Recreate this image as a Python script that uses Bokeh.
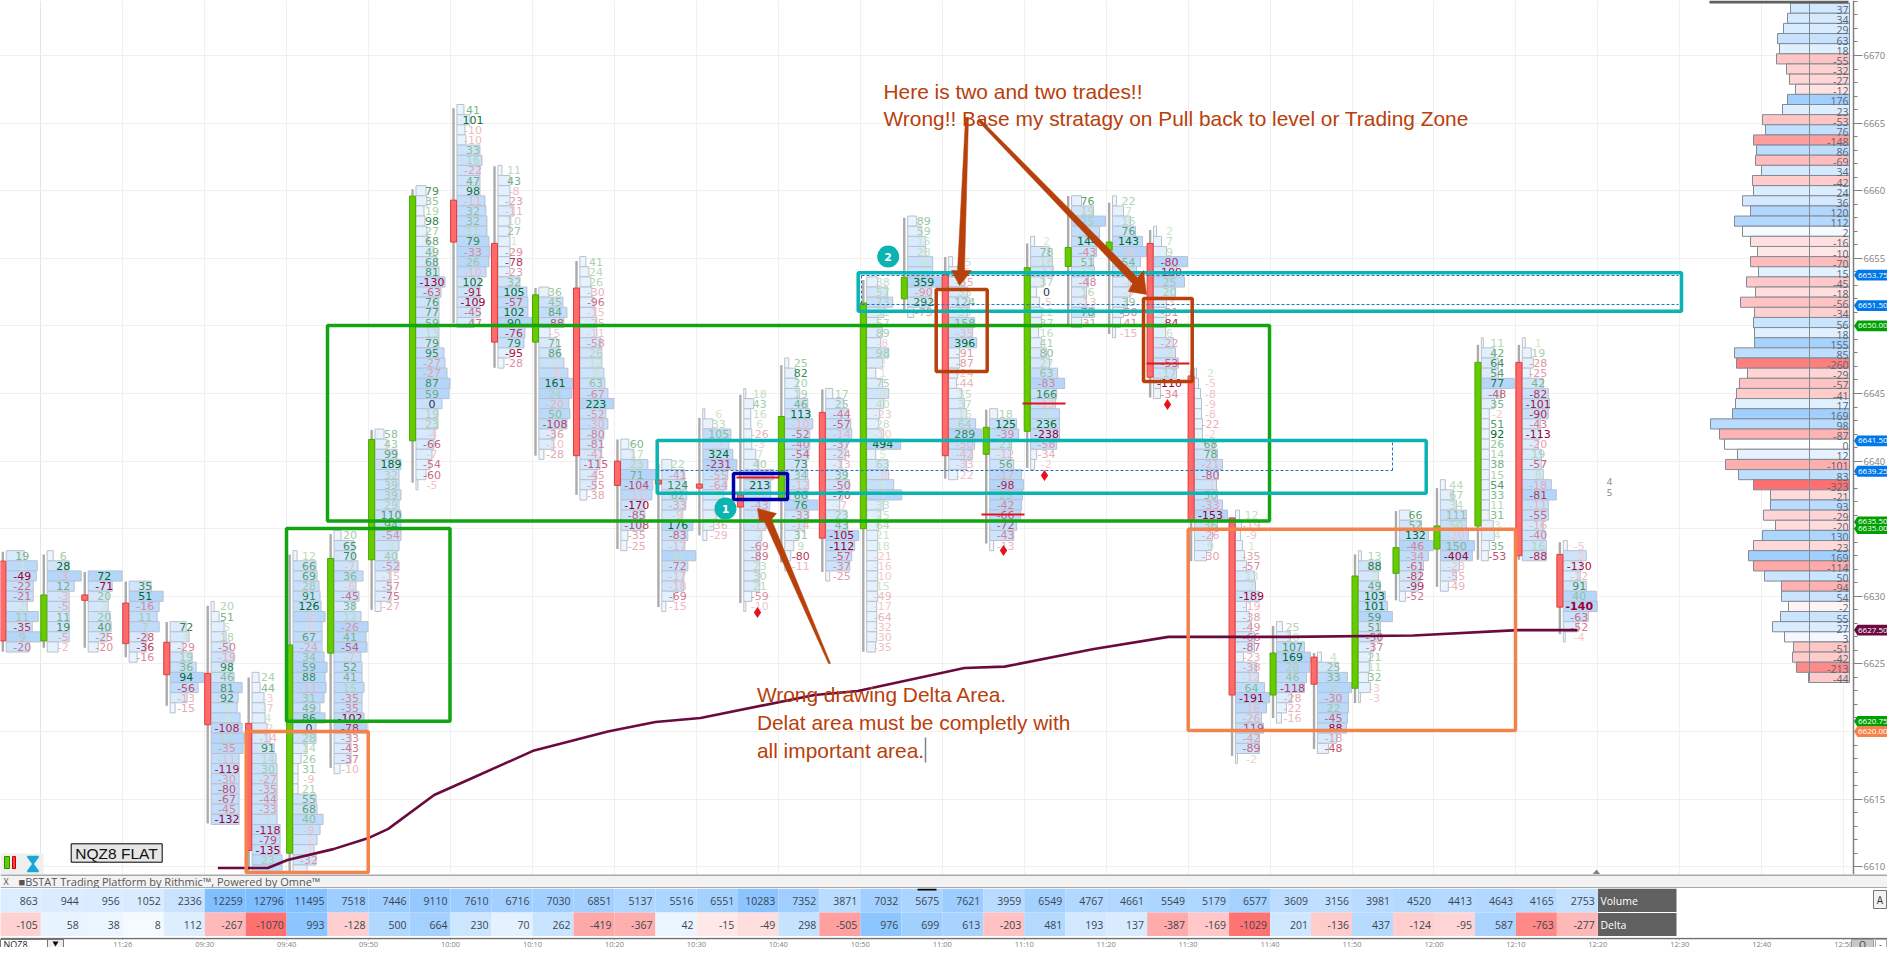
from bokeh.plotting import figure
from bokeh.layouts import column
from bokeh.models import Range1d, Grid, FixedTicker, LinearAxis
from bokeh.core.properties import value
from bokeh.embed import file_html
from bokeh.resources import INLINE

# ---------- data ----------
first_bar = 545
bar_minutes = 5
top_rows = [6633.0,6633.0,6631.5,6630.75,6627.75,6629.25,6624.0,6633.0,6634.5,6642.0,6660.0,6666.0,6661.5,
            6652.5,6654.75,6641.25,6639.75,6643.5,6645.0,6647.25,6645.0,6653.25,6657.75,6654.75,6643.5,6656.25,
            6659.25,6659.25,6657.0,6646.5,6636.0,6627.75,6625.5,6633.0,6636.0,6638.25,6648.75,6648.75,6633.75]
opens  = [6632.6,6626.7,6630.1,6629.5,6626.6,6624.3,6620.6,6611.0,6625.8,6632.7,6641.5,6659.3,6656.1,6648.8,6652.8,6640.0,
          6638.6,6638.3,6637.5,6637.1,6643.6,6635.0,6652.0,6653.8,6640.5,6642.2,6654.4,6655.6,6656.1,6646.3,6635.8,6622.7,
          6625.5,6623.2,6631.7,6633.5,6635.2,6647.3,6633.1]
closes = [6626.7,6630.1,6629.7,6626.5,6624.2,6620.5,6611.2,6626.4,6632.8,6641.6,6659.6,6656.2,6648.8,6652.3,6640.4,6638.2,
          6638.3,6638.0,6636.6,6643.3,6634.3,6651.7,6653.6,6640.4,6642.5,6654.3,6655.8,6656.2,6646.2,6635.6,6622.7,6625.8,
          6623.5,6631.5,6633.6,6635.2,6647.3,6633.0,6629.2]
highs  = [6633.3,6633.1,6631.8,6631.1,6628.1,6629.3,6624.0,6633.1,6634.6,6642.3,6660.1,6666.1,6661.8,6652.8,6654.8,6641.6,
          6639.8,6643.2,6644.9,6647.1,6645.3,6653.4,6658.0,6655.1,6643.8,6656.1,6659.6,6659.1,6657.1,6646.7,6635.8,6627.8,
          6625.8,6633.1,6636.3,6638.0,6648.6,6648.6,6634.0]
lows   = [6625.9,6626.2,6626.2,6625.5,6621.9,6613.2,6609.7,6609.3,6617.3,6629.0,6638.4,6650.2,6646.9,6640.4,6637.5,6633.5,
          6629.2,6634.5,6629.5,6632.5,6631.8,6625.9,6651.2,6638.7,6633.9,6639.5,6650.1,6649.4,6644.7,6632.6,6618.2,6621.0,
          6618.7,6622.1,6629.7,6630.7,6632.7,6632.7,6627.2]
row_delta = [
 [19,1,-49,-22,-21,2,11,-35,9,-20],
 [6,28,-3,12,-3,-5,11,19,-5,-2],
 [72,-71,20,2,20,40,-25,-20],
 [35,51,-16,11,7,-28,-36,-16],
 [72,4,-29,19,36,94,-56,-13,-15],
 [20,51,5,18,-50,-19,98,46,81,92,3,2,-108,12,-35,-11,-119,-30,-80,-67,-45,-132],
 [24,44,-3,-7,4,-2,-14,91,14,30,-27,-35,-44,-33,7,-118,-79,-135,23,42],
 [12,66,69,28,91,126,-5,-1,67,-24,34,59,88,-11,31,49,86,0,28,14,26,31,-9,21,55,68,40,-9,-2,-1,-32,13],
 [20,65,70,-7,36,-6,-45,38,12,-26,41,-54,-7,52,41,15,-35,-35,-102,-78,-33,-43,-37,-10],
 [58,43,99,189,32,39,39,29,110,94,-54,8,40,-52,-15,-57,-75,-27],
 [79,35,19,98,27,68,49,68,81,-130,-63,76,77,59,13,79,95,-27,-27,87,59,0,19,23,-4,-66,-7,-54,-60,-5],
 [41,101,-10,-10,33,16,-22,47,98,-11,32,32,11,79,-33,26,-10,102,-91,-109,-45,-47],
 [11,43,-8,-23,-11,10,27,1,-29,-78,-23,32,105,-57,102,90,-76,79,-95,-28],
 [36,45,84,-88,-5,71,86,5,-5,161,24,-20,50,-108,-36,-10,-28],
 [41,24,26,-30,-96,-15,-25,-11,-58,26,12,9,63,-67,223,-52,-30,-80,-81,-41,-115,-45,-55,-38],
 [60,17,23,71,-104,-11,-170,-85,-108,-35,-25],
 [22,-41,124,62,-33,-9,176,-83,-17,12,-72,-17,-18,-69,-15],
 [6,33,105,-7,324,-231,-55,-64,7,-9,12,-36,-29],
 [18,43,16,6,-26,-3,7,40,-17,213,-8,-43,-11,-13,7,-69,-89,23,30,21,-59,-10],
 [25,82,20,19,46,113,-10,-52,-40,-54,73,34,-12,66,76,-33,-14,31,9,-80,-11],
 [17,25,-44,-57,-14,-37,-24,-13,39,-50,-70,-7,23,43,-105,-112,-57,-37,-25],
 [38,57,73,31,57,89,-8,98,2,1,75,9,40,-23,28,-10,494,5,63,-8,4,7,33,25,64,21,18,-21,-16,-10,15,-49,-17,-64,-32,-30,-35],
 [89,59,15,28,9,7,359,-90,292,-75],
 [15,-5,-55,33,124,35,158,-35,396,-91,-87,-24,-44,35,37,16,64,289,-50,-42,-33,-22],
 [18,125,-39,21,-12,56,-17,-98,25,-42,-66,-72,-43,-13],
 [2,78,18,-14,37,0,-5,22,37,16,41,80,27,63,-83,166,-13,9,236,-238,-58,-34,-2],
 [76,19,25,9,144,-43,51,12,-48,16,-13,78,-31],
 [22,7,16,76,143,-5,54,13,-8,-5,39,-50,-41,-15],
 [2,7,9,-80,-100,25,20,-3,-31,-84,6,-22,3,-53,17,-110,-34],
 [2,-5,-8,-9,-8,-22,-2,68,78,-21,-80,-1,50,-33,-153,36,-26,9,-30],
 [12,-19,-9,1,-35,-57,13,7,-189,-19,-38,-49,-66,-87,-23,-38,-12,64,-191,-16,-26,-119,-42,-89,-2],
 [25,10,107,169,28,46,-118,-28,-22,-16],
 [4,25,33,9,-30,22,-45,-88,-18,-48],
 [13,88,2,49,103,101,59,51,-50,-37,21,11,32,-3,-3],
 [66,52,132,-46,-34,-61,-82,-99,-52],
 [44,67,34,111,50,-20,150,-404,-23,-55,-49],
 [11,42,64,54,77,-48,35,-2,51,92,26,14,38,15,54,33,11,31,3,4,35,-53],
 [1,19,-28,-25,42,-82,-101,-90,-43,-113,-20,19,-57,8,-18,-81,-11,-55,-16,-40,16,-88],
 [-5,-2,-130,-12,91,40,-140,-63,-52,-4],
]
row_size = [
 [18,31,30,27,27,21,32,26,35,23],
 [6,22,34,27,22,22,22,22,22,11],
 [34,24,20,20,22,23,19,10],
 [22,34,30,28,30,18,17,8],
 [16,19,13,22,26,34,28,17,5],
 [3,8,13,15,19,23,21,23,31,27,26,29,31,33,32,28,28,28,28,28,28,28],
 [7,8,12,13,13,15,18,22,24,25,25,25,25,25,25,28,28,28,30,30],
 [4,23,24,26,27,28,32,29,29,29,31,34,32,33,31,27,32,23,23,14,8,5,5,5,23,24,30,27,24,21,23,14],
 [7,20,20,24,29,22,25,20,27,34,32,33,27,28,28,30,28,28,30,33,17,17,17,6],
 [9,12,22,26,24,24,26,24,26,26,26,24,22,24,16,16,16,6],
 [10,11,8,9,11,13,18,21,23,29,25,23,23,23,23,23,28,29,31,34,33,26,22,22,19,18,16,14,10,2],
 [7,13,8,9,23,25,23,23,23,28,29,30,30,32,33,32,29,23,23,23,23,17],
 [4,12,12,12,16,12,12,12,12,12,12,22,29,30,30,34,27,26,12,6],
 [10,24,28,25,11,18,21,25,29,34,33,30,31,28,16,15,5],
 [6,9,11,12,14,16,17,17,21,22,22,24,25,28,34,26,28,24,22,21,20,17,16,7],
 [8,13,27,35,32,31,24,24,23,7,6],
 [10,23,23,25,24,21,31,26,23,34,26,22,22,12,4],
 [2,10,28,26,30,34,25,24,21,17,14,11,4],
 [2,10,7,7,8,8,12,15,30,27,27,26,23,22,18,17,16,16,16,16,8,2],
 [4,11,13,15,23,25,28,25,25,24,22,23,24,23,33,24,20,14,9,6,3],
 [7,18,23,25,26,21,20,16,21,24,17,14,21,22,33,29,26,24,4],
 [11,21,26,17,11,16,14,22,16,9,16,22,17,13,12,17,34,9,21,22,27,35,17,14,12,11,11,11,11,11,11,11,10,10,10,10,9],
 [9,14,18,18,25,25,34,24,23,6],
 [4,11,16,19,21,19,26,24,28,11,11,9,8,13,16,18,27,33,26,24,18,9],
 [8,27,29,22,21,24,32,34,33,32,31,27,24,4],
 [4,19,22,23,13,6,9,11,11,8,11,16,19,27,34,26,25,29,29,29,26,6,4],
 [10,22,34,28,28,25,22,23,17,15,15,23,10],
 [4,11,18,23,30,34,28,24,18,18,15,11,8,3],
 [3,8,13,34,23,31,22,13,13,13,12,20,22,25,23,7,7],
 [2,4,6,7,7,8,8,20,23,28,24,22,23,28,33,23,18,17,12],
 [4,6,5,7,9,11,19,20,24,11,14,16,19,19,8,21,23,29,34,31,26,28,24,24,2],
 [6,14,28,34,33,30,28,15,10,5],
 [4,21,30,34,31,31,30,29,19,11],
 [3,22,20,22,27,29,34,22,22,15,12,11,10,12,2],
 [11,22,29,34,29,24,21,19,6],
 [5,13,16,26,26,28,34,32,19,16,8],
 [2,13,17,17,33,20,13,8,8,8,8,8,8,8,8,8,8,8,12,13,8,7],
 [3,9,11,8,21,26,27,26,18,18,16,19,19,21,29,34,26,26,21,23,24,24],
 [4,23,18,17,23,33,34,25,15,2],
]
table_volume = [863,944,956,1052,2336,12259,12796,11495,7518,7446,9110,7610,6716,7030,6851,5137,5516,6551,10283,7352,
                3871,7032,5675,7621,3959,6549,4767,4661,5549,5179,6577,3609,3156,3981,4520,4413,4643,4165,2753]
table_delta = [-105,58,38,8,112,-267,-1070,993,-128,500,664,230,70,262,-419,-367,42,-15,-49,298,
               -505,976,699,613,-203,481,193,137,-387,-169,-1029,201,-136,437,-124,-95,587,-763,-277]
profile_top = 6673.5
profile_delta = [37,34,29,63,18,-55,-32,-27,-12,176,23,-53,76,-148,86,-69,34,-42,24,36,120,112,2,-16,-10,-70,15,-45,-18,-56,
                 -34,56,18,155,85,-260,-29,-57,-41,17,169,98,-87,0,12,-101,83,-323,-21,93,-29,-20,130,-23,169,-114,50,-94,54,
                 -2,55,27,3,-51,-42,-213,-44]
profile_size = [59,62,66,72,70,73,63,60,54,62,67,87,84,96,93,94,88,97,96,107,99,115,107,99,92,99,91,103,94,109,95,96,95,95,115,
                113,102,110,113,114,117,139,130,125,112,124,111,96,79,79,86,74,87,96,101,96,85,68,68,61,69,77,65,56,57,53,41]
vwap_minute = [571.6,577.7,580.1,585.7,589.9,592.4,598.0,602.8,610.2,619.2,625.0,630.5,644.4,649.7,662.7,667.6,678.5,687.6,690.2,702.5,717.5,730.2,737.5]
vwap_price = [6609.9,6609.9,6610.5,6611.3,6612.1,6612.8,6615.3,6616.6,6618.6,6620.0,6620.7,6621.0,6622.7,6623.0,6624.7,6624.8,6626.1,6627.0,6627.0,6627.0,6627.1,6627.5,6627.5]
level_price = [6653.75,6651.50,6650.00,6641.50,6639.25,6635.00,6635.50,6627.50,6620.75,6620.00]
level_color = ["#0078E8","#0078E8","#00A000","#0078E8","#0078E8","#00A000","#00A000","#6B0A3F","#00A000","#F5824A"]
price_ticks = [6610,6615,6620,6625,6630,6635,6640,6645,6650,6655,6660,6665,6670]
time_ticks = [560,570,580,590,600,610,620,630,640,650,660,670,680,690,700,710,720,730,740,750,760,770]
time_labels = ["11:26","09:30","09:40","09:50","10:00","10:10","10:20","10:30","10:40","10:50","11:00","11:10","11:20",
               "11:30","11:40","11:50","12:00","12:10","12:20","12:30","12:40","12:50"]

# ---------- scales (pixel of the reference <-> time / price) ----------
PX = 8.195      # pixels per minute
PY = 13.52      # pixels per point
def tx(px): return 570 + (px - 204.2) / PX
def ty(py): return 6670 - (py - 55) / PY

def mix(a, b, t):
    t = max(0.0, min(1.0, t))
    ca = [int(a[i:i+2], 16) for i in (1, 3, 5)]
    cb = [int(b[i:i+2], 16) for i in (1, 3, 5)]
    return "#%02X%02X%02X" % tuple(round(x + (y - x) * t) for x, y in zip(ca, cb))

W = 1887
R = 1887
x_range = Range1d(tx(0), tx(R))
NUM = value("DejaVu Sans")
UI = value("Open Sans")
SERIF = value("Liberation Sans")

p = figure(width=W, height=874, x_range=x_range, y_range=Range1d(ty(874), ty(0)), output_backend="svg",
           toolbar_location=None, x_axis_location=None, y_axis_location=None, min_border=0,
           outline_line_color=None, background_fill_color="white", border_fill_color="white")
p.add_layout(Grid(dimension=0, ticker=FixedTicker(ticks=time_ticks), grid_line_color="#F0F0F0"))
p.add_layout(Grid(dimension=1, ticker=FixedTicker(ticks=price_ticks), grid_line_color="#F0F0F0"))
p.quad(left=[tx(1853)], right=[tx(R)], bottom=[ty(874)], top=[ty(0)], fill_color="white", line_color=None)

# ---------- footprint rows ----------
ROW = 0.75
rows = dict(l=[], r=[], t=[], b=[], f=[])
labels = dict(x=[], y=[], s=[], c=[])
bold = dict(x=[], y=[], s=[], c=[])
floor_price = ty(868)
for k, (top, ds, ss) in enumerate(zip(top_rows, row_delta, row_size)):
    start = first_bar + k * bar_minutes + 6.4 / PX
    peak = max(abs(v) for v in ds) or 1
    for i, (d, s) in enumerate(zip(ds, ss)):
        price = top - i * ROW
        rows["l"].append(start); rows["r"].append(start + s / PX)
        rows["t"].append(price + ROW / 2); rows["b"].append(price - ROW / 2)
        rows["f"].append(mix("#F4F9FE", "#B4D6FB", (s / 34) ** 1.3))
        if price < floor_price:
            continue
        t = (abs(d) / peak) ** 0.9
        col = "#2A3550" if d == 0 else (mix("#D6EBD0", "#00692A", t) if d > 0 else mix("#F6D2D2", "#9E0030", t))
        tgt = bold if d == -140 else labels
        tgt["x"].append(start + 16 / PX); tgt["y"].append(price); tgt["s"].append(str(d)); tgt["c"].append(col)
p.quad(left=rows["l"], right=rows["r"], top=rows["t"], bottom=rows["b"], fill_color=rows["f"], line_color="#B9C1CC", line_width=1)
p.text(x=labels["x"], y=labels["y"], text=labels["s"], text_color=labels["c"], text_font=NUM, text_font_size="11px",
       text_align="center", text_baseline="middle")
p.text(x=bold["x"], y=bold["y"], text=bold["s"], text_color=bold["c"], text_font=NUM, text_font_size="11px",
       text_font_style="bold", text_align="center", text_baseline="middle")

# ---------- candles ----------
cx = [first_bar + k * bar_minutes + 3 / PX for k in range(len(opens))]
p.segment(x0=cx, x1=cx, y0=highs, y1=lows, line_color="#ABABAB", line_width=2.4)
p.quad(left=[x - 3 / PX for x in cx], right=[x + 3 / PX for x in cx],
       top=[max(a, b) for a, b in zip(opens, closes)], bottom=[min(a, b) for a, b in zip(opens, closes)],
       fill_color=["#66CC00" if c > o else "#FF6B6B" for o, c in zip(opens, closes)],
       line_color=["#4BA800" if c > o else "#E23A3A" for o, c in zip(opens, closes)], line_width=1)

# ---------- volume profile on the right ----------
pr_right = tx(1849)
pr_rows = [profile_top - i * ROW for i in range(len(profile_delta))]
pr_fill = [mix("#FFFFFF", "#A0CFFE", (d / 176) ** 0.5) if d >= 0 else mix("#FFFFFF", "#FF6F6F", (-d / 323) ** 0.5) for d in profile_delta]
p.quad(left=[tx(1849 - s) for s in profile_size], right=[pr_right] * len(profile_size),
       top=[y + ROW / 2 for y in pr_rows], bottom=[y - ROW / 2 for y in pr_rows],
       fill_color=pr_fill, line_color="#828A92", line_width=1)
p.quad(left=[tx(1709)], right=[tx(1848)], top=[ty(0)], bottom=[ty(3)], fill_color="#606060", line_color=None)
p.segment(x0=[tx(1809)], x1=[tx(1809)], y0=[ty(681)], y1=[ty(3)], line_color="#828A92", line_width=1)
p.text(x=[tx(1848)] * len(pr_rows), y=[y - 2 / PY for y in pr_rows], text=[str(d) for d in profile_delta], text_color="#5A6470",
       text_font=UI, text_font_size="10.5px", text_align="right", text_baseline="middle")

# ---------- vwap ----------
p.line(vwap_minute, vwap_price, line_color="#6B0A3F", line_width=2.6)

# ---------- drawn zones ----------
def box(x1, y1, x2, y2, color, width=3.5):
    p.quad(left=[tx(x1)], right=[tx(x2)], top=[ty(y1)], bottom=[ty(y2)], fill_color=None, line_color=color, line_width=width)
def hline(x1, x2, y, color, width=1.5, dash="solid"):
    p.line([tx(x1), tx(x2)], [ty(y), ty(y)], line_color=color, line_width=width, line_dash=dash)
def vline(x, y1, y2, color, width=1.5, dash="solid"):
    p.line([tx(x), tx(x)], [ty(y1), ty(y2)], line_color=color, line_width=width, line_dash=dash)

for lx, ly in [(736, 477), (981, 514), (1022, 403), (1146, 363)]:
    hline(lx, lx + 43, ly, "#E0141E", 1.8)
dash_blue = "#2672C8"
hline(861, 1678, 275, dash_blue, 1, "3 2")
hline(861, 1678, 304, dash_blue, 1, "3 2")
vline(861, 275, 304, dash_blue, 1, "3 2")
hline(660, 1392, 470, dash_blue, 1, "3 2")
vline(1392, 442, 470, dash_blue, 1, "3 2")
box(327, 325, 1269, 520.5, "#12A512")
box(286, 528, 449.5, 720.7, "#12A512")
box(245.7, 731, 367.7, 872, "#F5824A")
box(1187.7, 528.7, 1515, 730, "#F5824A")
box(857.7, 272.3, 1681, 310.7, "#0BB3B3")
box(656.7, 440, 1425.7, 492.7, "#0BB3B3")
box(733, 473, 787, 499, "#0000AA")
box(935.7, 289, 986.7, 371, "#B8400B")
box(1143, 298, 1191.7, 381, "#B8400B")
p.scatter([tx(757), tx(1003), tx(1044), tx(1167)], [ty(612), ty(550), ty(475), ty(404)], marker="diamond", size=11, fill_color="#E8101A", line_color=None)

# ---------- arrows ----------
def poly(points, color):
    p.patch([tx(a) for a, _ in points], [ty(b) for _, b in points], fill_color=color, line_color=color, line_width=0.5)
BROWN = "#B8400B"
poly([(757, 508), (776, 513), (771, 519), (830, 663), (828, 663), (764, 521), (759, 520)], BROWN)
poly([(965, 117), (968, 117), (964, 270), (971, 270), (959, 285), (951, 270), (957, 270)], BROWN)
poly([(979, 118), (1137, 277), (1143, 270), (1146, 294), (1128, 291), (1132, 283), (977, 120)], BROWN)

# ---------- circled numbers ----------
p.scatter([tx(725), tx(887.7)], [ty(508), ty(256)], marker="circle", size=22, fill_color="#0BB3B3", line_color=None)
p.text([tx(725), tx(887.7)], [ty(508), ty(256)], text=["1", "2"], text_color="white", text_font=NUM, text_font_size="11px",
       text_font_style="bold", text_align="center", text_baseline="middle")

# ---------- notes ----------
for tx_, ty_, s in [(883, 91, "Here is two and two trades!!"),
                    (883, 118, "Wrong!! Base my stratagy on Pull back to level or Trading Zone"),
                    (756.4, 694, "Wrong drawing Delta Area."),
                    (756.4, 722, "Delat area must be completly with"),
                    (756.4, 750, "all important area.")]:
    p.text([tx(tx_)], [ty(ty_)], text=[s], text_color=BROWN, text_font=SERIF, text_font_size="20.9px", text_align="left", text_baseline="middle")
vline(925, 737, 762, "#808080", 1.5)
p.text([tx(1609), tx(1609)], [ty(481), ty(492)], text=["4", "5"], text_color="#808080", text_font=UI, text_font_size="9.5px",
       text_align="center", text_baseline="middle")

# ---------- corner labels ----------
p.quad(left=[tx(70.7)], right=[tx(161.7)], top=[ty(843.3)], bottom=[ty(861.7)], fill_color="#E6E6E6", line_color="black", line_width=1)
p.text([tx(116)], [ty(852.5)], text=["NQZ8 FLAT"], text_color="#111111", text_font=SERIF, text_font_size="15.5px", text_align="center", text_baseline="middle")
p.quad(left=[tx(0)], right=[tx(43)], top=[ty(853)], bottom=[ty(874)], fill_color="#EFEFEF", line_color=None)
p.quad(left=[tx(4)], right=[tx(9)], top=[ty(856)], bottom=[ty(868)], fill_color="#66CC00", line_color="#2E8B00")
p.quad(left=[tx(12)], right=[tx(15)], top=[ty(856)], bottom=[ty(868)], fill_color="#FF4040", line_color="#CC0000")
p.patch([tx(27), tx(38), tx(27), tx(38)], [ty(856), ty(856), ty(871), ty(871)], fill_color="#18A8D8", line_color="#18A8D8", line_width=1.5)
p.patch([tx(1592), tx(1600), tx(1596)], [ty(874), ty(874), ty(869)], fill_color="#808080", line_color=None)

# ---------- price axis ----------
yaxis = LinearAxis(fixed_location=tx(1853),
                   ticker=FixedTicker(ticks=price_ticks, minor_ticks=list(range(6609, 6675))),
                   axis_line_color="#808080", axis_line_width=1.5,
                   major_tick_line_color="#808080", minor_tick_line_color="#808080",
                   major_tick_in=0, major_tick_out=9, minor_tick_in=0, minor_tick_out=4,
                   major_label_standoff=1, major_label_text_color="#808080",
                   major_label_text_font="Open Sans", major_label_text_font_size="9.5px",
                   major_label_text_baseline="bottom", major_label_orientation="horizontal")
p.add_layout(yaxis, "right")

# ---------- price tags above the axis ----------
px_tag = [tx(1853.5), tx(1857), tx(R), tx(R), tx(1857)]
hh = 5.4 / PY
p.patches([px_tag for _ in level_price], [[l, l + hh, l + hh, l - hh, l - hh] for l in level_price],
          fill_color=level_color, line_color=None, level="annotation")
p.text([tx(1857.5)] * len(level_price), level_price, text=["%.2f" % l for l in level_price], text_color="white",
       text_font=UI, text_font_size="8px", text_align="left", text_baseline="middle", level="annotation")

# ---------- title strip ----------
strip = figure(width=W, height=14, x_range=x_range, y_range=Range1d(888, 874), output_backend="svg", toolbar_location=None,
               x_axis_location=None, y_axis_location=None, min_border=0, outline_line_color=None,
               background_fill_color="#F3F3F3", border_fill_color="#F3F3F3")
strip.xgrid.visible = False
strip.ygrid.visible = False
strip.segment([tx(0), tx(0)], [874.5, 887.5], [tx(R), tx(R)], [874.5, 887.5], line_color="#606060", line_width=1.2)
strip.text([tx(18)], [881], text=["\u25a0BSTAT  Trading Platform by Rithmic\u2122, Powered by Omne\u2122"], text_color="#555555",
           text_font=UI, text_font_size="11px", text_align="left", text_baseline="middle")
strip.text([tx(3)], [881], text=["X"], text_color="#555555", text_font=UI, text_font_size="9px", text_align="left", text_baseline="middle")

# ---------- volume / delta table ----------
tab = figure(width=W, height=48, x_range=x_range, y_range=Range1d(0, 48), output_backend="svg", toolbar_location=None,
             x_axis_location=None, y_axis_location=None, min_border=0, outline_line_color=None,
             background_fill_color="white", border_fill_color="white")
tab.xgrid.visible = False
tab.ygrid.visible = False
col_l = [first_bar + k * bar_minutes for k in range(len(table_volume))]
col_r = [c + bar_minutes for c in col_l]
vol_fill = [mix("#F3F9FF", "#7EBDFF", (v / 12796) ** 0.6) for v in table_volume]
del_fill = [mix("#FBFDFF", "#8CC5FF", (d / 993) ** 0.6) if d >= 0 else mix("#FFF2F2", "#FF7070", (-d / 1070) ** 0.6) for d in table_delta]
tab.quad(left=col_l, right=col_r, bottom=[24] * len(col_l), top=[48] * len(col_l), fill_color=vol_fill, line_color=None)
tab.quad(left=col_l, right=col_r, bottom=[0] * len(col_l), top=[24] * len(col_l), fill_color=del_fill, line_color=None)
label_x = [c - 3 / PX for c in col_r]
tab.text(label_x, [36] * len(col_l), text=[str(v) for v in table_volume], text_color="#3C4650", text_font=UI, text_font_size="10.5px",
         text_align="right", text_baseline="middle")
tab.text(label_x, [12] * len(col_l), text=[str(v) for v in table_delta], text_color="#3C4650", text_font=UI, text_font_size="10.5px",
         text_align="right", text_baseline="middle")
tab.quad(left=[tx(1597.5)] * 2, right=[tx(1676)] * 2, bottom=[0, 24.5], top=[23.5, 48], fill_color="#606060", line_color=None)
tab.text([tx(1600)] * 2, [36, 12], text=["Volume", "Delta"], text_color="white", text_font=UI, text_font_size="10.5px",
         text_align="left", text_baseline="middle")
tab.quad(left=[tx(917)], right=[tx(936)], bottom=[46], top=[48], fill_color="black", line_color=None)
tab.quad(left=[tx(1873)], right=[tx(1886)], bottom=[28], top=[46], fill_color="#F3F3F3", line_color="#777777")
tab.text([tx(1879.5)], [37], text=["A"], text_color="#333333", text_font=UI, text_font_size="10px", text_align="center", text_baseline="middle")

# ---------- time axis ----------
foot = figure(width=W, height=11, x_range=x_range, y_range=Range1d(947, 936), output_backend="svg", toolbar_location=None,
              x_axis_location=None, y_axis_location=None, min_border=0, outline_line_color=None,
              background_fill_color="white", border_fill_color="white")
foot.xgrid.visible = False
foot.ygrid.visible = False
xaxis = LinearAxis(fixed_location=936.5, ticker=FixedTicker(ticks=time_ticks),
                   major_label_overrides={t: s for t, s in zip(time_ticks, time_labels)},
                   axis_line_color="#707070", axis_line_width=1.5,
                   major_tick_line_color="#707070", minor_tick_line_color=None,
                   major_tick_in=0, major_tick_out=1, major_label_standoff=0, major_label_text_color="#808080",
                   major_label_text_font="Open Sans", major_label_text_font_size="7.5px")
foot.add_layout(xaxis, "below")
foot.quad(left=[tx(0)], right=[tx(63)], top=[938], bottom=[947], fill_color="white", line_color="#777777", level="annotation")
foot.quad(left=[tx(47)], right=[tx(63)], top=[938], bottom=[947], fill_color="#EEEEEE", line_color="#777777", level="annotation")
foot.text([tx(3)], [942.5], text=["NQZ8"], text_color="#222222", text_font=UI, text_font_size="9px", text_align="left",
          text_baseline="middle", level="annotation")
foot.patch([tx(52), tx(58), tx(55)], [940, 940, 945], fill_color="black", line_color=None, level="annotation")
foot.quad(left=[tx(1851)], right=[tx(1873)], top=[938], bottom=[947], fill_color="#C8C8C8", line_color="#999999", level="annotation")
foot.quad(left=[tx(1875)], right=[tx(1886)], top=[938], bottom=[947], fill_color="white", line_color="#AAAAAA", level="annotation")
foot.text([tx(1862)], [942.5], text=["Q"], text_color="#333333", text_font=UI, text_font_size="9px", text_align="center",
          text_baseline="middle", level="annotation")
foot.text([tx(1880)], [942.5], text=["-"], text_color="#333333", text_font=UI, text_font_size="9px", text_align="center",
          text_baseline="middle", level="annotation")

page = column(p, strip, tab, foot, spacing=0)
open("out.html", "w").write(file_html(page, INLINE))
